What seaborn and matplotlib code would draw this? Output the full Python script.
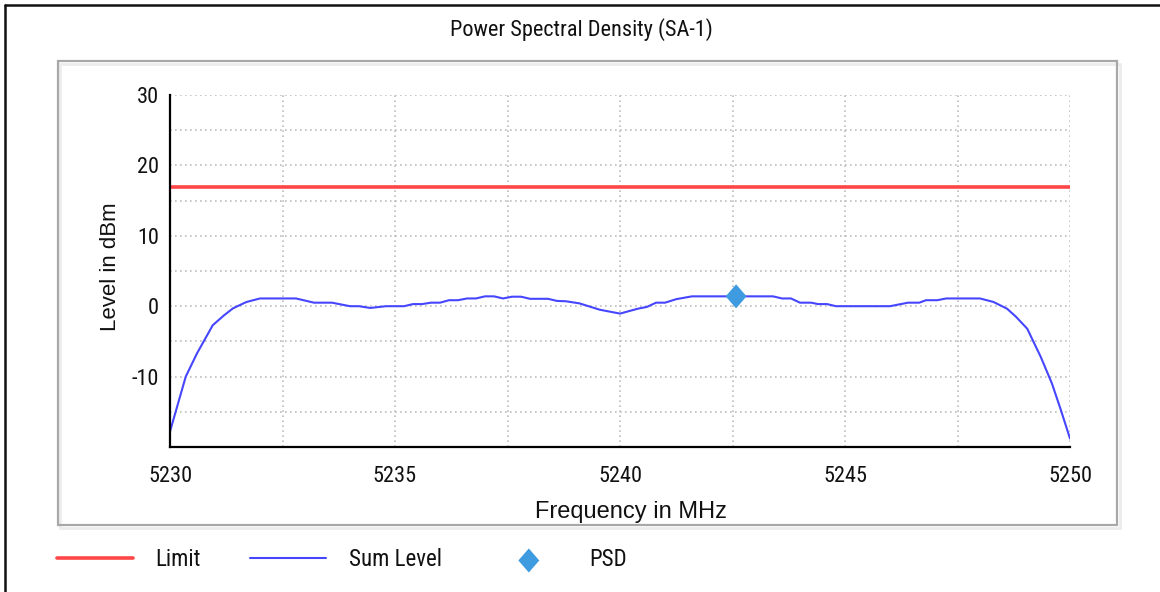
import numpy as np
import pandas as pd
import matplotlib
matplotlib.use("Agg")
import matplotlib.pyplot as plt
import seaborn as sns
from matplotlib import font_manager
from matplotlib.lines import Line2D
from matplotlib.patches import Rectangle
from matplotlib.ticker import FixedLocator, FuncFormatter

# values
freq_mhz = [5230.0, 5230.35, 5230.6, 5230.95, 5231.2, 5231.4, 5231.7, 5232.0, 5232.8,
            5233.2, 5233.6, 5234.0, 5234.2, 5234.45, 5234.8, 5235.2, 5235.4, 5235.6,
            5235.8, 5236.0, 5236.2, 5236.4, 5236.6, 5236.8, 5237.0, 5237.2, 5237.4,
            5237.6, 5237.8, 5238.0, 5238.4, 5238.6, 5238.8, 5239.1, 5239.55, 5240.0,
            5240.4, 5240.6, 5240.8, 5241.0, 5241.25, 5241.6, 5243.4, 5243.6, 5243.8,
            5244.0, 5244.25, 5244.4, 5244.6, 5244.8, 5246.0, 5246.4, 5246.65, 5246.8,
            5247.05, 5247.25, 5248.0, 5248.3, 5248.6, 5248.8, 5249.05, 5249.35, 5249.6,
            5249.8, 5250.0]
sum_level_dbm = [-17.8, -10.0, -6.7, -2.7, -1.3, -0.3, 0.6, 1.1, 1.1,
                 0.5, 0.5, 0.0, 0.0, -0.25, 0.0, 0.0, 0.3, 0.3,
                 0.5, 0.5, 0.85, 0.85, 1.1, 1.1, 1.4, 1.4, 1.1,
                 1.35, 1.35, 1.05, 1.05, 0.75, 0.7, 0.4, -0.5, -1.05,
                 -0.35, -0.1, 0.5, 0.5, 1.0, 1.4, 1.4, 1.1, 1.1,
                 0.5, 0.5, 0.3, 0.3, 0.0, 0.0, 0.5, 0.5, 0.85,
                 0.85, 1.1, 1.1, 0.6, -0.35, -1.5, -3.2, -7.2, -11.0,
                 -14.8, -18.8]
limit_freq = [5230, 5250]
limit_dbm = [17, 17]
psd_freq = [5242.58]
psd_dbm = [1.4]

x_ticks = [5230, 5232.5, 5235, 5237.5, 5240, 5242.5, 5245, 5247.5, 5250]
y_ticks = [-15, -10, -5, 0, 5, 10, 15, 20, 25, 30]

sns.set_style("white")
installed = {f.name for f in font_manager.fontManager.ttflist}
narrow = [f for f in ['Liberation Sans Narrow', 'DejaVu Sans Condensed', 'Roboto Condensed',
                      'Open Sans Condensed', 'Liberation Sans'] if f in installed] + ['DejaVu Sans']
regular = [f for f in ['Liberation Sans', 'Arial'] if f in installed] + ['DejaVu Sans']
plt.rcParams['font.family'] = narrow
plt.rcParams['font.stretch'] = 'condensed'

W, H = 1160, 592
fig = plt.figure(figsize=(W / 100, H / 100), dpi=100)
ax = fig.add_axes([170 / W, 1 - 447 / H, 900 / W, 352 / H])

sns.lineplot(x=limit_freq, y=limit_dbm, color='#ff4646', lw=2.6, label='Limit', ax=ax)
sns.lineplot(x=freq_mhz, y=sum_level_dbm, color='#4646ff', lw=1.5, sort=False,
             estimator=None, label='Sum Level', ax=ax)
diamond = [(0, 1.15), (1, 0), (0, -1.15), (-1, 0), (0, 1.15)]
sns.scatterplot(x=psd_freq, y=psd_dbm, marker=diamond, s=300, color='#3f9be0',
                edgecolor='none', label='PSD', zorder=5, ax=ax)

if ax.get_legend() is not None:
    ax.get_legend().remove()

ax.set_xlim(5230, 5250)
ax.set_ylim(-20, 30)
ax.xaxis.set_major_locator(FixedLocator(x_ticks))
ax.yaxis.set_major_locator(FixedLocator(y_ticks))
ax.xaxis.set_major_formatter(FuncFormatter(lambda v, p: f"{v:.0f}" if v % 5 == 0 else ""))
ax.yaxis.set_major_formatter(FuncFormatter(lambda v, p: f"{v:.0f}" if v % 10 == 0 else ""))
ax.grid(True, color='#bdbdbd', lw=1.2, linestyle=(0, (1, 2)))
for s in ['top', 'right']:
    ax.spines[s].set_visible(False)
for s in ['left', 'bottom']:
    ax.spines[s].set_color('black')
    ax.spines[s].set_linewidth(1.6)
ax.tick_params(axis='both', direction='inout', length=10, width=1.4, color='black',
               labelsize=16, labelcolor='#111111')
ax.tick_params(axis='y', pad=3)
ax.tick_params(axis='x', pad=9)
ax.set_xlabel('')
ax.set_ylabel('')

fig.text(581 / W, 1 - 30 / H, 'Power Spectral Density (SA-1)', ha='center', va='center',
         fontsize=16, color='#111111')
fig.text(110 / W, 1 - 267 / H, 'Level in dBm', rotation=90, ha='center', va='center',
         fontsize=16, family=regular, stretch='normal', color='#111111')
fig.text(631 / W, 1 - 512 / H, 'Frequency in MHz', ha='center', va='center',
         fontsize=17, family=regular, stretch='normal', color='#111111', zorder=3)

# hide the part of the x label that runs below the panel border
fig.patches.append(Rectangle((400 / W, 1 - 545 / H), 500 / W, 18 / H, transform=fig.transFigure,
                             facecolor='white', edgecolor='none', zorder=4))
fig.patches.append(Rectangle((60 / W, 1 - 528 / H), 1060 / W, 464 / H, transform=fig.transFigure,
                             fill=False, edgecolor='#ececec', lw=2, zorder=4))
fig.patches.append(Rectangle((58 / W, 1 - 525 / H), 1059 / W, 464 / H, transform=fig.transFigure,
                             fill=False, edgecolor='#a8a8a8', lw=1.6, zorder=5))
fig.lines.append(Line2D([5 / W, 1], [1 - 4.5 / H, 1 - 4.5 / H], transform=fig.transFigure,
                        color='#111111', lw=1.8))
fig.lines.append(Line2D([5 / W, 5 / W], [0, 1 - 4.5 / H], transform=fig.transFigure,
                        color='#111111', lw=1.8))

handles, labels = ax.get_legend_handles_labels()
fig.legend(handles, labels, loc='center left', bbox_to_anchor=(57 / W, 1 - 560 / H), ncol=3,
           frameon=False, fontsize=16.5, handlelength=3.3, handletextpad=1.0,
           columnspacing=2.15, borderpad=0, borderaxespad=0, labelcolor='#111111')

fig.savefig('out.png', dpi=100, facecolor='white')
